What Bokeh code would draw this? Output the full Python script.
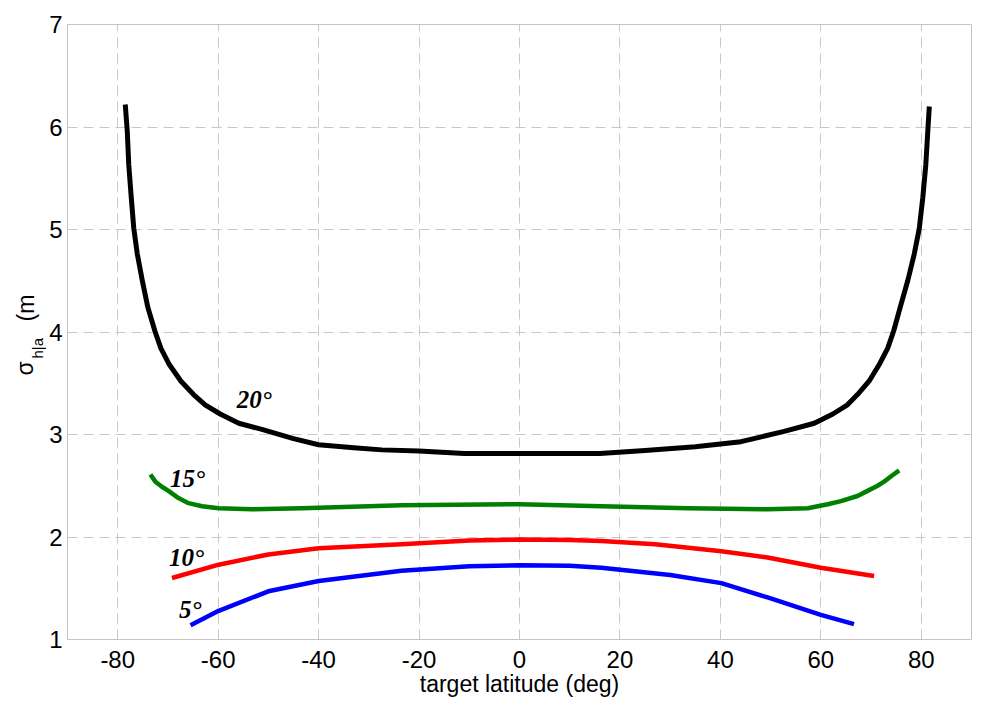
import math
from bokeh.plotting import figure
from bokeh.layouts import row
from bokeh.models import Range1d, FixedTicker
from bokeh.core.properties import value
from bokeh.embed import file_html
from bokeh.resources import INLINE

# ---- data ----
lat_20 = [-78.5, -78.1, -77.8, -77.3, -76.8, -76.1, -75.1, -74.0, -72.6, -71.4, -69.7, -67.4,
          -64.9, -62.6, -59.6, -55.9, -51.3, -45, -40, -33, -27.4, -20, -11, 0, 16, 25, 35,
          44.1, 52.7, 58.7, 62.4, 65.3, 67.3, 69.6, 71.6, 73.3, 74.5, 75.8, 77.3, 78.6,
          79.6, 80.3, 80.9, 81.3, 81.6]
sig_20 = [6.22, 5.96, 5.63, 5.31, 5.01, 4.76, 4.50, 4.24, 4.01, 3.84, 3.68, 3.52,
          3.39, 3.29, 3.20, 3.11, 3.05, 2.96, 2.90, 2.87, 2.85, 2.84, 2.815, 2.815, 2.815, 2.845, 2.88,
          2.93, 3.03, 3.11, 3.20, 3.29, 3.39, 3.52, 3.68, 3.84, 4.01, 4.24, 4.50, 4.76,
          5.01, 5.31, 5.63, 5.96, 6.20]

lat_15 = [-73.5, -72.5, -71.2, -69.9, -67.9, -65.9, -63.2, -59.9, -53.3, -43.3, -23.5, 0,
          16.3, 33.5, 49.4, 57.4, 61.4, 64.0, 67.3, 69.3, 71.3, 72.6, 74.2, 75.6]
sig_15 = [2.61, 2.54, 2.49, 2.45, 2.38, 2.33, 2.30, 2.28, 2.27, 2.28, 2.31, 2.32,
          2.30, 2.28, 2.27, 2.28, 2.32, 2.35, 2.40, 2.45, 2.50, 2.54, 2.60, 2.65]

lat_10 = [-69.2, -59.9, -50, -40, -23.5, -10, 0, 10, 16.3, 27, 40.2, 49.4, 60, 70.6]
sig_10 = [1.60, 1.73, 1.83, 1.89, 1.93, 1.965, 1.975, 1.97, 1.96, 1.93, 1.86, 1.80, 1.70, 1.62]

lat_5 = [-65.5, -59.9, -50, -40, -23.5, -10, 0, 10, 16.3, 30, 40.2, 49.4, 60, 66.6]
sig_5 = [1.14, 1.28, 1.47, 1.57, 1.67, 1.715, 1.725, 1.72, 1.70, 1.63, 1.55, 1.41, 1.24, 1.15]

curve_labels = ["20\u00b0", "15\u00b0", "10\u00b0", "5\u00b0"]
label_lat = [-56.3, -69.6, -69.8, -67.8]
label_sig = [3.34, 2.57, 1.80, 1.29]

x_ticks = [-80, -60, -40, -20, 0, 20, 40, 60, 80]
y_ticks = [1, 2, 3, 4, 5, 6, 7]

x_title = "target latitude (deg)"
y_title_parts = ["\u03c3", "h|a", "(m"]

H = 709
LEFT_W = 46
FRAME_TOP = 24
FRAME_BOTTOM = 639

# ---- narrow panel holding the y-axis title (sigma with subscript) ----
# its frame is aligned with the main chart's frame, so map page pixels directly
lab = figure(width=LEFT_W, height=H, output_backend="svg", toolbar_location=None,
             x_range=Range1d(0, LEFT_W), y_range=Range1d(FRAME_BOTTOM, FRAME_TOP),
             x_axis_type=None, y_axis_type=None, min_border=0, title=None)
lab.outline_line_color = None
lab.background_fill_color = "white"
lab.border_fill_color = "white"
lab.text(x=[24], y=[375], text=[y_title_parts[0]], angle=math.pi / 2,
         text_font=value("Liberation Sans"), text_font_size="23px", text_color="black",
         text_align="left", text_baseline="alphabetic")
lab.text(x=[37], y=[358], text=[y_title_parts[1]], angle=math.pi / 2,
         text_font=value("Liberation Sans"), text_font_size="15px", text_color="black",
         text_align="left", text_baseline="alphabetic")
lab.text(x=[25], y=[321], text=[y_title_parts[2]], angle=math.pi / 2,
         text_font=value("Liberation Sans"), text_font_size="23px", text_color="black",
         text_align="left", text_baseline="alphabetic")

# ---- main chart ----
p = figure(width=990 - LEFT_W, height=H, output_backend="svg", toolbar_location=None,
           x_range=Range1d(-90, 90), y_range=Range1d(1, 7),
           min_border_left=65 - LEFT_W, min_border_right=19, min_border_top=FRAME_TOP,
           min_border_bottom=H - FRAME_BOTTOM)
p.background_fill_color = "white"
p.border_fill_color = "white"
p.outline_line_color = "#c4c4c4"
p.outline_line_width = 1

for ax in (p.xaxis[0], p.yaxis[0]):
    ax.axis_line_color = None
    ax.major_tick_line_color = None
    ax.minor_tick_line_color = None
    ax.major_tick_out = 0
    ax.major_tick_in = 0
    ax.minor_tick_out = 0
    ax.major_label_text_font = "Liberation Sans"
    ax.major_label_text_font_size = "24px"
    ax.major_label_text_color = "black"

p.xaxis.ticker = FixedTicker(ticks=x_ticks)
p.yaxis.ticker = FixedTicker(ticks=y_ticks)
p.xaxis.major_label_overrides = {t: str(t) for t in x_ticks}
p.yaxis.major_label_overrides = {t: str(t) for t in y_ticks}
p.xaxis.major_label_standoff = 11
p.yaxis.major_label_standoff = 5
p.xaxis.axis_label = x_title
p.xaxis.axis_label_text_font = "Liberation Sans"
p.xaxis.axis_label_text_font_size = "23px"
p.xaxis.axis_label_text_font_style = "normal"
p.xaxis.axis_label_standoff = 0
p.xaxis.axis_label_text_color = "black"

for g in (p.xgrid[0], p.ygrid[0]):
    g.grid_line_color = "#c8c8c8"
    g.grid_line_width = 1
    g.grid_line_dash = "10 6"

p.line(lat_20, sig_20, line_color="black", line_width=5, line_join="round")
p.line(lat_15, sig_15, line_color="#008000", line_width=4.5, line_join="round")
p.line(lat_10, sig_10, line_color="#ff0000", line_width=4.5, line_join="round")
p.line(lat_5, sig_5, line_color="#0000ff", line_width=4.5, line_join="round")

p.text(x=label_lat, y=label_sig, text=curve_labels,
       text_font=value("Liberation Serif"), text_font_style="bold italic",
       text_font_size="25px", text_color="black",
       text_align="left", text_baseline="alphabetic")

layout = row(lab, p, spacing=0)
open("out.html", "w").write(file_html(layout, INLINE))
